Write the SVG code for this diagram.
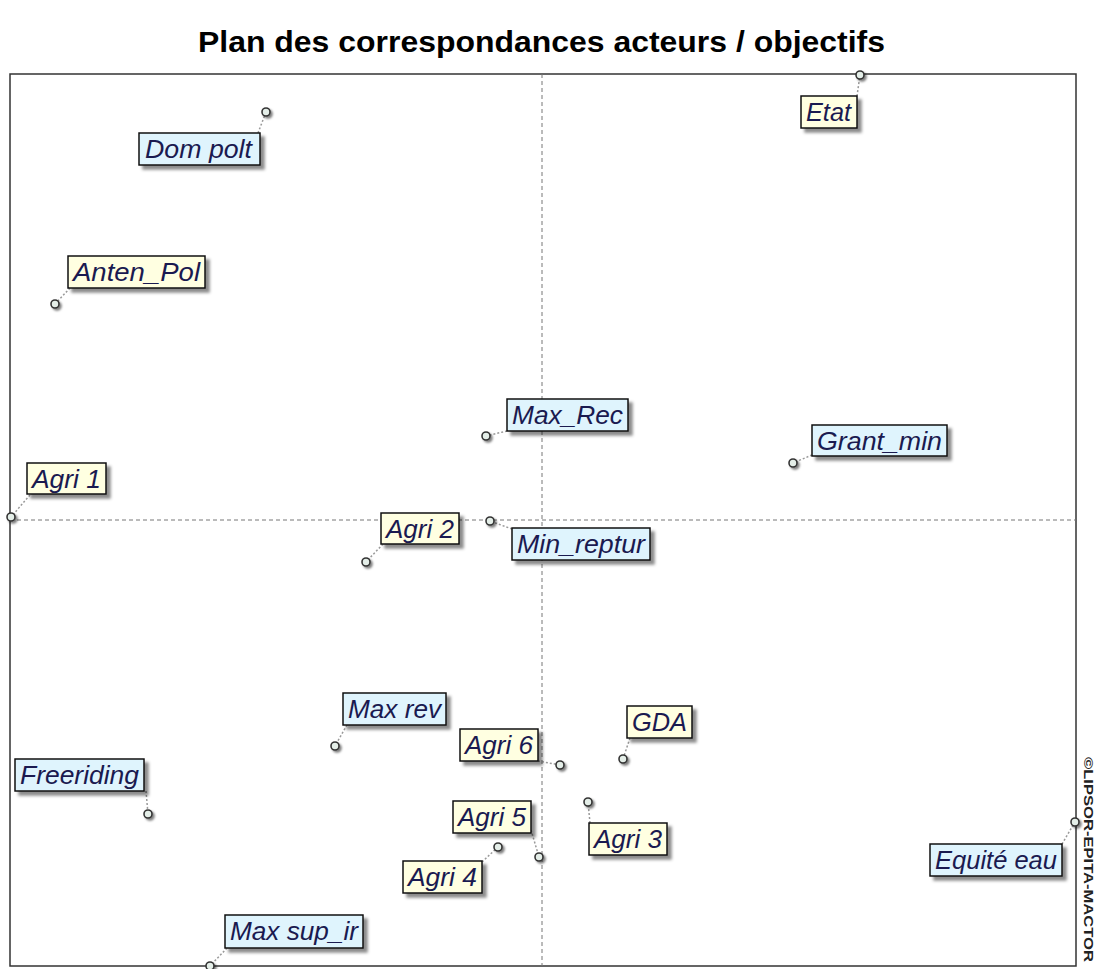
<svg xmlns="http://www.w3.org/2000/svg" width="1100" height="969" viewBox="0 0 1100 969">
<defs>
<filter id="sh" x="-20%" y="-30%" width="150%" height="180%">
<feDropShadow dx="4" dy="4" stdDeviation="1.6" flood-color="#000" flood-opacity="0.45"/>
</filter>
<filter id="psh" x="-100%" y="-100%" width="300%" height="300%">
<feDropShadow dx="2" dy="2" stdDeviation="1" flood-color="#000" flood-opacity="0.5"/>
</filter>
</defs>
<style>
.title{font-family:"Liberation Sans",Arial,sans-serif;font-weight:bold;font-size:30px;fill:#000}
.frame{fill:none;stroke:#333;stroke-width:1.5}
.axis{stroke:#777;stroke-width:1;stroke-dasharray:4,3;fill:none}
.con{stroke:#999;stroke-width:1.5;stroke-dasharray:2,2;fill:none}
.pt{fill:#e4eee8;stroke:#333;stroke-width:1.6;filter:url(#psh)}
.bx{stroke:#111;stroke-width:1.5;filter:url(#sh)}
.y{fill:#ffffe1}
.b{fill:#dff4fd}
.lb{font-family:"Liberation Sans",Arial,sans-serif;font-style:italic;font-size:25px;fill:#1a1a50}
.cp{font-family:"Liberation Sans",Arial,sans-serif;font-weight:bold;font-size:12px;fill:#222}
</style>
<text class="title" x="198" y="52" textLength="687" lengthAdjust="spacingAndGlyphs">Plan des correspondances acteurs / objectifs</text>
<g id="frame">
<rect class="frame" x="10" y="74" width="1066" height="892"/>
<line class="axis" x1="542" y1="74" x2="542" y2="966"/>
<line class="axis" x1="10" y1="520" x2="1076" y2="520"/>
</g>
<text class="cp" transform="translate(1084,757) rotate(90)" textLength="205" lengthAdjust="spacingAndGlyphs">©LIPSOR-EPITA-MACTOR</text>
<g id="connectors">
<line class="con" x1="258" y1="133" x2="266" y2="112"/>
<line class="con" x1="857" y1="96" x2="860" y2="75"/>
<line class="con" x1="70" y1="288" x2="55" y2="304"/>
<line class="con" x1="507" y1="431" x2="486" y2="436"/>
<line class="con" x1="812" y1="455" x2="793" y2="463"/>
<line class="con" x1="30" y1="495" x2="11" y2="517"/>
<line class="con" x1="383" y1="544" x2="366" y2="562"/>
<line class="con" x1="512" y1="529" x2="490" y2="521"/>
<line class="con" x1="347" y1="725" x2="335" y2="746"/>
<line class="con" x1="630" y1="738" x2="623" y2="759"/>
<line class="con" x1="538" y1="761" x2="560" y2="765"/>
<line class="con" x1="146" y1="791" x2="148" y2="814"/>
<line class="con" x1="531" y1="830" x2="539" y2="857"/>
<line class="con" x1="590" y1="823" x2="588" y2="802"/>
<line class="con" x1="482" y1="862" x2="498" y2="847"/>
<line class="con" x1="1062" y1="844" x2="1075" y2="822"/>
<line class="con" x1="227" y1="948" x2="210" y2="966"/>
</g>
<g id="n-dompolt"><circle class="pt" cx="266" cy="112" r="4"/><rect class="bx b" x="139" y="133" width="121" height="32"/><text class="lb" x="145" y="158" textLength="107" lengthAdjust="spacingAndGlyphs">Dom polt</text></g>
<g id="n-etat"><circle class="pt" cx="860" cy="75" r="4"/><rect class="bx y" x="801" y="96" width="56" height="32"/><text class="lb" x="806" y="121" textLength="45" lengthAdjust="spacingAndGlyphs">Etat</text></g>
<g id="n-antenpol"><circle class="pt" cx="55" cy="304" r="4"/><rect class="bx y" x="68" y="256" width="137" height="32"/><text class="lb" x="73" y="281" textLength="127" lengthAdjust="spacingAndGlyphs">Anten_Pol</text></g>
<g id="n-maxrec"><circle class="pt" cx="486" cy="436" r="4"/><rect class="bx b" x="507" y="399" width="121" height="32"/><text class="lb" x="512" y="424" textLength="111" lengthAdjust="spacingAndGlyphs">Max_Rec</text></g>
<g id="n-grantmin"><circle class="pt" cx="793" cy="463" r="4"/><rect class="bx b" x="812" y="425" width="135" height="31"/><text class="lb" x="817" y="450" textLength="125" lengthAdjust="spacingAndGlyphs">Grant_min</text></g>
<g id="n-agri1"><circle class="pt" cx="11" cy="517" r="4"/><rect class="bx y" x="27" y="463" width="79" height="31"/><text class="lb" x="32" y="488" textLength="69" lengthAdjust="spacingAndGlyphs">Agri 1</text></g>
<g id="n-agri2"><circle class="pt" cx="366" cy="562" r="4"/><rect class="bx y" x="381" y="513" width="78" height="31"/><text class="lb" x="386" y="538" textLength="68" lengthAdjust="spacingAndGlyphs">Agri 2</text></g>
<g id="n-minreptur"><circle class="pt" cx="490" cy="521" r="4"/><rect class="bx b" x="512" y="528" width="138" height="32"/><text class="lb" x="517" y="553" textLength="128" lengthAdjust="spacingAndGlyphs">Min_reptur</text></g>
<g id="n-maxrev"><circle class="pt" cx="335" cy="746" r="4"/><rect class="bx b" x="343" y="693" width="103" height="32"/><text class="lb" x="348" y="718" textLength="93" lengthAdjust="spacingAndGlyphs">Max rev</text></g>
<g id="n-gda"><circle class="pt" cx="623" cy="759" r="4"/><rect class="bx y" x="627" y="706" width="65" height="32"/><text class="lb" x="632" y="731" textLength="55" lengthAdjust="spacingAndGlyphs">GDA</text></g>
<g id="n-agri6"><circle class="pt" cx="560" cy="765" r="4"/><rect class="bx y" x="460" y="729" width="78" height="32"/><text class="lb" x="465" y="754" textLength="68" lengthAdjust="spacingAndGlyphs">Agri 6</text></g>
<g id="n-freeriding"><circle class="pt" cx="148" cy="814" r="4"/><rect class="bx b" x="15" y="759" width="129" height="32"/><text class="lb" x="20" y="784" textLength="119" lengthAdjust="spacingAndGlyphs">Freeriding</text></g>
<g id="n-agri5"><circle class="pt" cx="539" cy="857" r="4"/><rect class="bx y" x="453" y="801" width="78" height="32"/><text class="lb" x="458" y="826" textLength="68" lengthAdjust="spacingAndGlyphs">Agri 5</text></g>
<g id="n-agri3"><circle class="pt" cx="588" cy="802" r="4"/><rect class="bx y" x="589" y="823" width="78" height="32"/><text class="lb" x="594" y="848" textLength="68" lengthAdjust="spacingAndGlyphs">Agri 3</text></g>
<g id="n-agri4"><circle class="pt" cx="498" cy="847" r="4"/><rect class="bx y" x="403" y="861" width="79" height="32"/><text class="lb" x="408" y="886" textLength="69" lengthAdjust="spacingAndGlyphs">Agri 4</text></g>
<g id="n-equiteeau"><circle class="pt" cx="1075" cy="822" r="4"/><rect class="bx b" x="930" y="844" width="132" height="32"/><text class="lb" x="935" y="869" textLength="122" lengthAdjust="spacingAndGlyphs">Equité eau</text></g>
<g id="n-maxsupir"><circle class="pt" cx="210" cy="966" r="4"/><rect class="bx b" x="225" y="915" width="138" height="33"/><text class="lb" x="230" y="940" textLength="128" lengthAdjust="spacingAndGlyphs">Max sup_ir</text></g>
</svg>
